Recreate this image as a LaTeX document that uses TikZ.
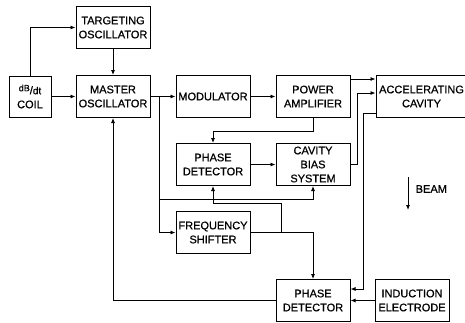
\documentclass[tikz,border=0pt]{standalone}
\usepackage{fontspec}
\setmainfont{Liberation Sans}
\newfontfamily\lettering[FakeBold=0.7]{Liberation Sans}
\usetikzlibrary{arrows.meta,positioning,calc}

\begin{document}
\begin{tikzpicture}[
  x=1pt, y=1pt, line width=0.8pt,
  block/.style={rectangle, draw, line width=1pt, align=center, inner sep=1pt, font=\lettering\fontsize{11}{14}\selectfont, minimum width=74pt, minimum height=42pt},
  >={Latex[length=5pt,width=4pt]},
  node distance=25pt
]
\useasboundingbox (0,0) rectangle (465,-322);

% Obere Reihe
\node[block, minimum width=42pt, minimum height=41pt] (coil) at (30,-96.5) {{\fontsize{9}{9}\selectfont\raisebox{3pt}{dB}}/{\fontsize{10}{10}\selectfont dt}\\COIL};
\node[block, right=24pt of coil] (master) {MASTER\\OSCILLATOR};
\node[block, above=26pt of master] (target) {TARGETING\\OSCILLATOR};
\node[block, right=of master] (mod) {MODULATOR};
\node[block, right=of mod] (pa) {POWER\\AMPLIFIER};
\node[block, right=of pa, minimum width=91pt] (cav) {ACCELERATING\\CAVITY};

% Mittlere Reihen
\node[block, below=of mod] (pd1) {PHASE\\DETECTOR};
\node[block, below=of pa] (cbs) {CAVITY\\BIAS\\SYSTEM};
\node[block, below=of pd1] (fs) {FREQUENCY\\SHIFTER};

% Untere Reihe
\node[block, below=93pt of cbs] (pd2) {PHASE\\DETECTOR};
\node[block, right=24pt of pd2] (ie) {INDUCTION\\ELECTRODE};

% Strahl
\coordinate (beamtop) at (408,-177);
\coordinate (beambot) at (408,-210);
\node[anchor=west, font=\lettering\fontsize{11}{14}\selectfont] (beam) at (412,-189) {BEAM};
\draw[->] (beamtop) -- (beambot);

% Verbindungen
\coordinate (split) at ([xshift=9pt]master.east);
\coordinate[right=31pt of fs.east] (fsj);

\draw[->] (coil) -- (master);
\draw[->] (coil.north) |- (target.west);
\draw[->] (target) -- (master);
\draw[->] (master) -- (mod);
\draw[->] (split) |- (fs.west);
\draw[->] (mod) -- (pa);
\draw[->] ([yshift=-4pt]pa.north east) -- ([yshift=-4pt]cav.north west);
\draw[->] (cbs.east) -- ++(7,0) |- ([yshift=-18pt]cav.north west);
\draw[->] ([yshift=5pt]cav.south west) -- ++(-12,0) |- ([yshift=-10pt]pd2.north east);
\draw[->] (ie) -- (pd2);
\draw[->] (pa.south) -- ++(0,-13) -| (pd1.north);
\draw[->] (pd1) -- (cbs);
\draw[->] (pd2.west) -| (master.south);
\draw[->] (fs.east) -| (pd2.north);
\draw[->] (fsj) -- ++(0,29) -| (pd1.south);
\draw[->] ($(split |- pd1.south)+(0,-13)$) -| (cbs.south);

\end{tikzpicture}
\end{document}
